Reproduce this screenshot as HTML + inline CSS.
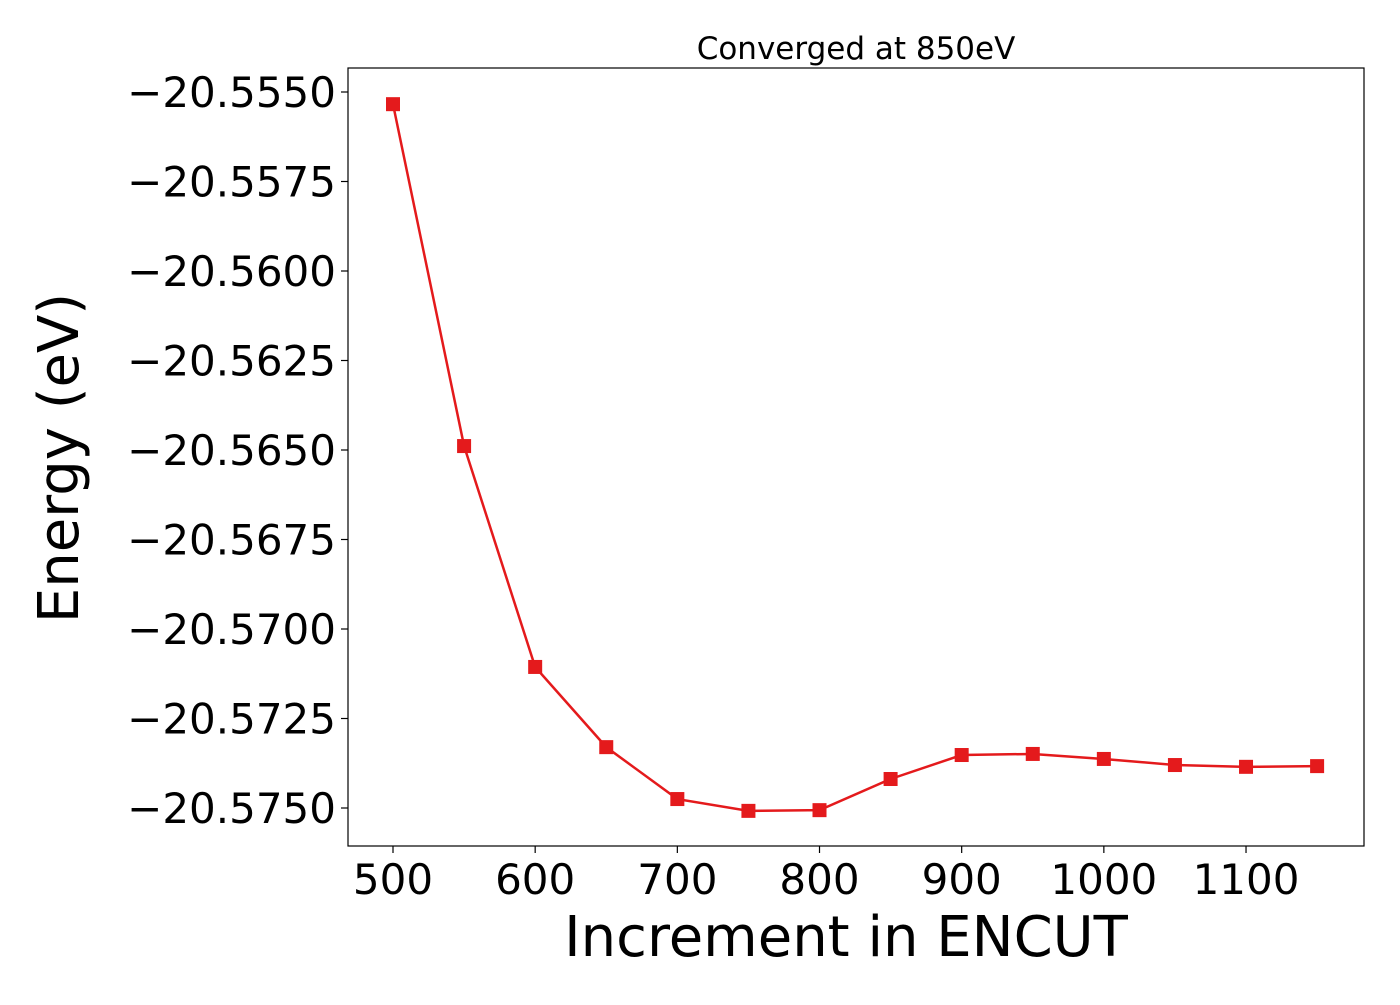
<!DOCTYPE html>
<html><head><meta charset="utf-8"><style>
html,body{margin:0;padding:0;background:#fff;}
svg text{font-family:"DejaVu Sans","Liberation Sans",sans-serif;fill:#000;}
</style></head><body>
<svg id="chart" width="1400" height="1000" xmlns="http://www.w3.org/2000/svg">
<rect width="1400" height="1000" fill="#fff"/>
<g id="g"></g>
</svg>
<script>
const xValues=[500,550,600,650,700,750,800,850,900,950,1000,1050,1100,1150];
const energies=[-20.55534,-20.56489,-20.57106,-20.57330,-20.57475,-20.57508,-20.57506,-20.57419,-20.57352,-20.57349,-20.57363,-20.57380,-20.57385,-20.57383];
const xTicks=[500,600,700,800,900,1000,1100];
const yTicks=[-20.5550,-20.5575,-20.5600,-20.5625,-20.5650,-20.5675,-20.5700,-20.5725,-20.5750];
const yTickLabels=["\u221220.5550","\u221220.5575","\u221220.5600","\u221220.5625","\u221220.5650","\u221220.5675","\u221220.5700","\u221220.5725","\u221220.5750"];
const NS="http://www.w3.org/2000/svg";
const L=348,R=1364,T=68,B=846;
function xs(v){return 393+(v-500)*1.4217;}
function ys(v){return 92+(-20.555-v)/0.02*716;}
const g=document.getElementById('g');
function mk(t,a){const e=document.createElementNS(NS,t);for(const k in a)e.setAttribute(k,a[k]);g.appendChild(e);return e;}
let e;
e=mk('rect',{x:L,y:T,width:R-L,height:B-T,fill:'none',stroke:'#000','stroke-width':1.2});


xTicks.forEach(v=>{
 e=mk('line',{x1:xs(v),x2:xs(v),y1:B,y2:B+7,stroke:'#000','stroke-width':1.2});
 
 
 e=mk('text',{x:xs(v),y:894,'font-size':42,'text-anchor':'middle'});e.textContent=v;
 
 
});
yTicks.forEach((v,i)=>{
 e=mk('line',{x1:L-7,x2:L,y1:ys(v),y2:ys(v),stroke:'#000','stroke-width':1.2});
 
 
 e=mk('text',{x:336,y:ys(v)+15,'font-size':42,'text-anchor':'end'});e.textContent=yTickLabels[i];
 
 
});
e=mk('polyline',{points:xValues.map((x,i)=>xs(x)+','+ys(energies[i])).join(' '),fill:'none',stroke:'#e41a1c','stroke-width':2.5});


xValues.forEach((x,i)=>{
 e=mk('rect',{x:xs(x)-7,y:ys(energies[i])-7,width:14,height:14,fill:'#e41a1c'});
 
 
});
e=mk('text',{x:856,y:59,'font-size':31,'text-anchor':'middle'});e.textContent='Converged at 850eV';


e=mk('text',{x:846,y:956,'font-size':56,'text-anchor':'middle'});e.textContent='Increment in ENCUT';


e=mk('text',{x:0,y:0,'font-size':56,'text-anchor':'middle',transform:'translate(78,458) rotate(-90)'});e.textContent='Energy (eV)';


</script>
</body></html>
